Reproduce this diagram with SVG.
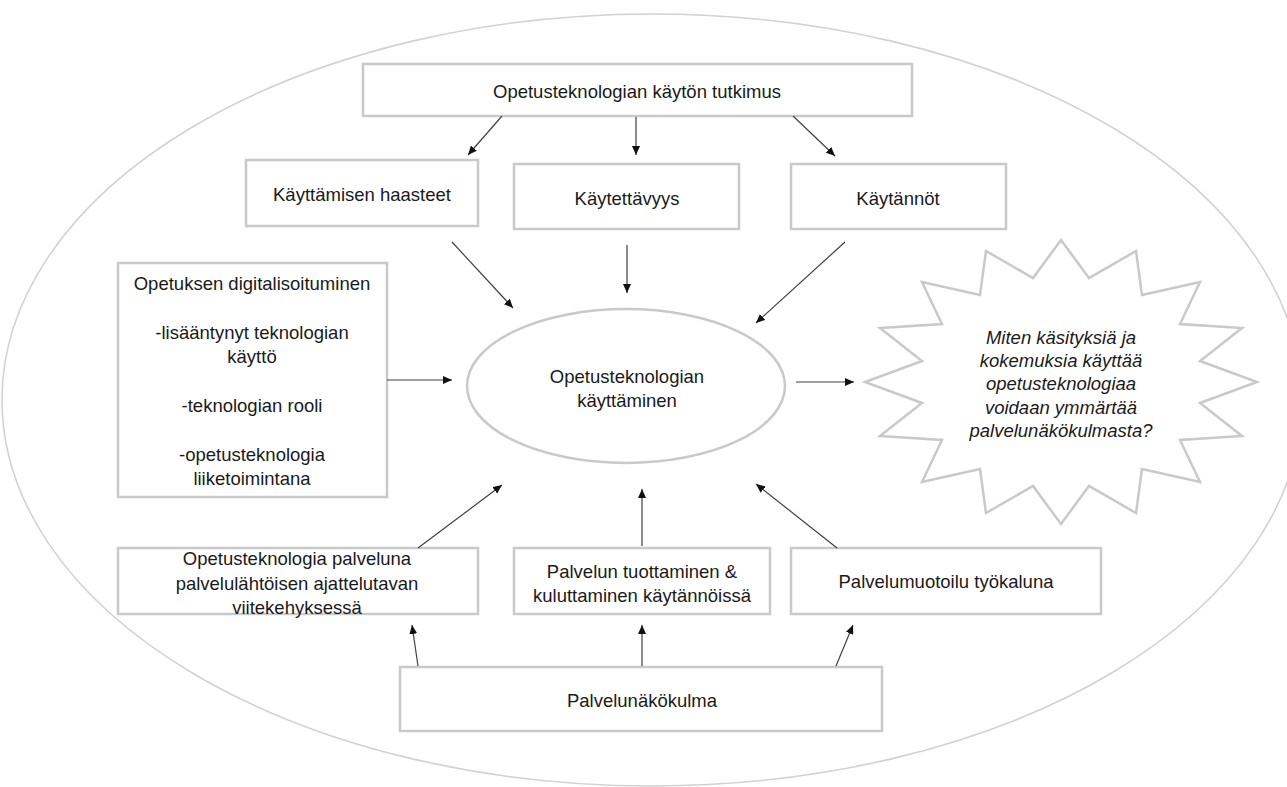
<svg xmlns="http://www.w3.org/2000/svg" width="1287" height="787" viewBox="0 0 1287 787">
<defs>
<style>
.box{fill:#fff;stroke:#c9c9c9;stroke-width:2.5}
.oval{fill:#fff;stroke:#c9c9c9;stroke-width:2.5}
.t{font-family:"Liberation Sans",Arial,sans-serif;font-size:18.5px;fill:#1a1a1a;text-anchor:middle;dominant-baseline:central}
.ti{font-style:italic}
.c{stroke:#404040;stroke-width:1.2;fill:none;marker-end:url(#ah)}
</style>
<marker id="ah" markerUnits="userSpaceOnUse" markerWidth="10" markerHeight="8" refX="9" refY="4" orient="auto">
<path d="M0,0 L9,4 L0,8 z" fill="#111"/>
</marker>
</defs>
<rect width="1287" height="787" fill="#fff"/>
<g id="frame"><ellipse cx="652" cy="400" rx="650" ry="386" fill="none" stroke="#d2d2d2" stroke-width="1.6"/></g>

<g id="n-top"><rect class="box" x="363" y="64" width="549" height="52"/><text class="t" x="637" y="91">Opetusteknologian käytön tutkimus</text></g>
<g id="n-haasteet"><rect class="box" x="246" y="160" width="232" height="66"/><text class="t" x="362" y="194">Käyttämisen haasteet</text></g>
<g id="n-kaytettavyys"><rect class="box" x="514" y="164" width="225" height="65"/><text class="t" x="627" y="198">Käytettävyys</text></g>
<g id="n-kaytannot"><rect class="box" x="791" y="164" width="215" height="65"/><text class="t" x="898" y="198">Käytännöt</text></g>
<g id="n-digi"><rect class="box" x="118" y="263" width="269" height="234"/>
<text class="t" x="252" y="283">Opetuksen digitalisoituminen</text>
<text class="t" x="252" y="332">-lisääntynyt teknologian</text>
<text class="t" x="252" y="356">käyttö</text>
<text class="t" x="252" y="405">-teknologian rooli</text>
<text class="t" x="252" y="454">-opetusteknologia</text>
<text class="t" x="252" y="478">liiketoimintana</text></g>
<g id="n-center"><ellipse class="oval" cx="626" cy="386" rx="159" ry="77"/>
<text class="t" x="627" y="376">Opetusteknologian</text>
<text class="t" x="627" y="400">käyttäminen</text></g>
<g id="n-star"><polygon fill="#fff" stroke="#c9c9c9" stroke-width="2.5" points="1061,240 1089,278 1136,251 1142,295 1200,282 1180,324 1242,328 1200,361 1257,382 1200,403 1242,436 1180,440 1200,482 1142,469 1136,513 1089,486 1061,524 1033,486 986,513 980,469 922,482 942,440 880,436 922,403 865,382 922,361 880,328 942,324 922,282 980,295 986,251 1033,278"/>
<text class="t ti" x="1061" y="337">Miten käsityksiä ja</text>
<text class="t ti" x="1061" y="360">kokemuksia käyttää</text>
<text class="t ti" x="1061" y="383">opetusteknologiaa</text>
<text class="t ti" x="1061" y="407">voidaan ymmärtää</text>
<text class="t ti" x="1061" y="430">palvelunäkökulmasta?</text></g>
<g id="n-palveluna"><rect class="box" x="118" y="548" width="360" height="66"/>
<text class="t" x="297" y="558">Opetusteknologia palveluna</text>
<text class="t" x="297" y="583">palvelulähtöisen ajattelutavan</text>
<text class="t" x="297" y="607">viitekehyksessä</text></g>
<g id="n-tuottaminen"><rect class="box" x="514" y="548" width="256" height="66"/>
<text class="t" x="642" y="571">Palvelun tuottaminen &amp;</text>
<text class="t" x="642" y="595">kuluttaminen käytännöissä</text></g>
<g id="n-muotoilu"><rect class="box" x="791" y="548" width="310" height="66"/>
<text class="t" x="946" y="581">Palvelumuotoilu työkaluna</text></g>
<g id="n-palvelunakokulma"><rect class="box" x="400" y="667" width="482" height="64"/>
<text class="t" x="642" y="700">Palvelunäkökulma</text></g>

<g id="connectors">
<line class="c" x1="502" y1="116" x2="468" y2="155"/>
<line class="c" x1="636" y1="117" x2="636" y2="155"/>
<line class="c" x1="793" y1="116" x2="835" y2="156"/>
<line class="c" x1="452" y1="242" x2="513" y2="308"/>
<line class="c" x1="627" y1="245" x2="627" y2="293"/>
<line class="c" x1="845" y1="242" x2="756" y2="323"/>
<line class="c" x1="387" y1="380" x2="452" y2="380"/>
<line class="c" x1="796" y1="382" x2="854" y2="382"/>
<line class="c" x1="418" y1="548" x2="502" y2="485"/>
<line class="c" x1="642" y1="546" x2="642" y2="489"/>
<line class="c" x1="837" y1="548" x2="756" y2="484"/>
<line class="c" x1="418" y1="666" x2="412" y2="625"/>
<line class="c" x1="642" y1="666" x2="642" y2="625"/>
<line class="c" x1="836" y1="666" x2="853" y2="625"/>
</g>
</svg>
